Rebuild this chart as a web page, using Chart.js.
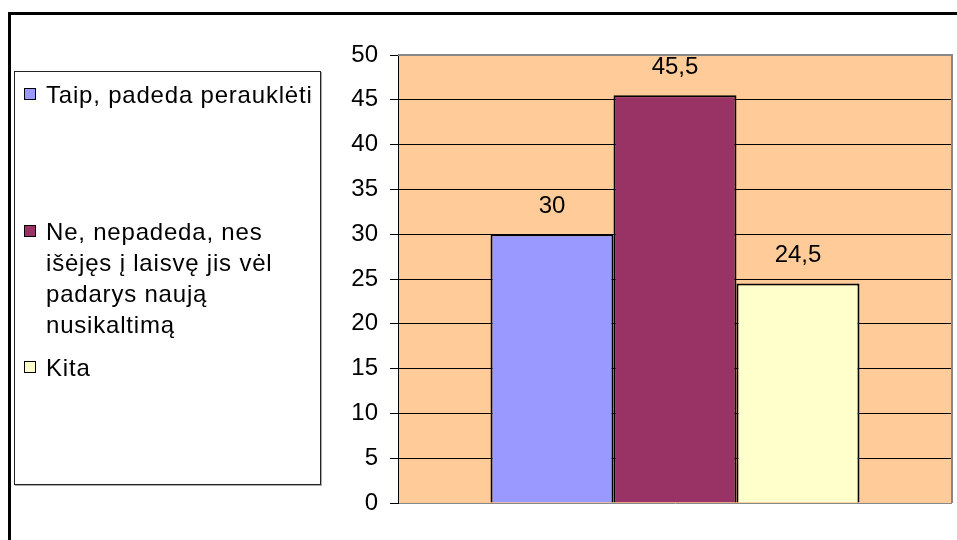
<!DOCTYPE html>
<html>
<head>
<meta charset="utf-8">
<script src="https://cdn.jsdelivr.net/npm/chart.js@4"></script>
<style>
  body { margin: 0; background: #fff; font-family: "Liberation Sans", Arial, sans-serif; }
  #wrap { position: relative; width: 957px; height: 540px; overflow: hidden; }
  #frame { position: absolute; left: 8px; top: 12px; width: 980px; height: 560px; border: 3px solid #000; }
  #chart { position: absolute; left: 0; top: 0; }
  #legend { position: absolute; left: 14px; top: 71px; width: 305px; height: 412px;
            border: 1px solid #222; box-shadow: 1px 1px 0 #aaa; background: #fff; }
  .item { position: absolute; left: 9px; width: 290px; font-size: 24px; line-height: 31px; color: #000; letter-spacing: 0.8px; }
  .sw { position: absolute; left: 0; top: 9px; width: 10px; height: 10px; border: 1.5px solid #000; }
  .txt { margin-left: 22px; width: 268px; }
</style>
</head>
<body>
<div id="wrap">
  <div id="frame"></div>
  <canvas id="chart" width="957" height="540"></canvas>
  <div id="legend"></div>
</div>
<script>
// atsakymai ir procentai
const categories = ['Taip, padeda perauklėti', 'Ne, nepadeda, nes išėjęs į laisvę jis vėl padarys naują nusikaltimą', 'Kita'];
const values = [30, 45.5, 24.5];
const colors = ['#9999FF', '#993366', '#FFFFCC'];
const yTicks = [0, 5, 10, 15, 20, 25, 30, 35, 40, 45, 50];

const font = '"Liberation Sans", Arial, sans-serif';

// legenda (HTML)
const legend = document.getElementById('legend');
const itemTops = [7, 144, 280];
categories.forEach((c, i) => {
    const el = document.createElement('div');
    el.className = 'item';
    el.style.top = itemTops[i] + 'px';
    el.innerHTML = '<div class="sw" style="background:' + colors[i] + '"></div><div class="txt">' + c + '</div>';
    legend.appendChild(el);
});

// fonas ir rėmelis
const plotBg = {
    id: 'plotBg',
    beforeDraw(chart) {
        const a = chart.chartArea, ctx = chart.ctx;
        ctx.save();
        ctx.fillStyle = '#FFCC99';
        ctx.fillRect(a.left, a.top, a.right - a.left, a.bottom - a.top);
        ctx.restore();
    },
    afterDatasetsDraw(chart) {
        const a = chart.chartArea, ctx = chart.ctx;
        ctx.save();
        ctx.strokeStyle = '#888';
        ctx.lineWidth = 2;
        ctx.beginPath();
        ctx.moveTo(a.left, a.top);
        ctx.lineTo(a.right, a.top);
        ctx.lineTo(a.right, a.bottom);
        ctx.stroke();
        ctx.restore();
    }
};

// reikšmės virš stulpelių
const valueLabels = {
    id: 'valueLabels',
    afterDatasetsDraw(chart) {
        const ctx = chart.ctx;
        ctx.save();
        ctx.font = '24px ' + font;
        ctx.fillStyle = '#000';
        ctx.textAlign = 'center';
        ctx.textBaseline = 'middle';
        chart.data.datasets.forEach((ds, i) => {
            chart.getDatasetMeta(i).data.forEach((bar, j) => {
                ctx.fillText(String(ds.data[j]).replace('.', ','), bar.x, bar.y - 28);
            });
        });
        ctx.restore();
    }
};

new Chart(document.getElementById('chart'), {
    type: 'bar',
    data: {
        labels: [''],
        datasets: categories.map((c, i) => ({
            label: c,
            data: [values[i]],
            backgroundColor: colors[i],
            borderColor: '#000',
            borderWidth: 2,
            categoryPercentage: 0.666,
            barPercentage: 1
        }))
    },
    options: {
        responsive: false,
        animation: false,
        layout: { padding: { left: 0, top: 55, right: 5, bottom: 37 } },
        plugins: { legend: { display: false }, tooltip: { enabled: false } },
        scales: {
            x: { display: false },
            y: {
                min: 0,
                max: 50,
                afterBuildTicks: s => { s.ticks = yTicks.map(v => ({ value: v })); },
                afterFit: s => { s.width = 398; },
                ticks: { color: '#000', font: { family: font, size: 24 }, padding: 12 },
                grid: {
                    color: c => (c.tick && (c.tick.value === 50 || c.tick.value === 0)) ? '#888' : '#000',
                    tickColor: '#000',
                    tickLength: 8,
                    lineWidth: 1
                },
                border: { color: '#000', width: 1 }
            }
        }
    },
    plugins: [plotBg, valueLabels]
});
</script>
</body>
</html>
